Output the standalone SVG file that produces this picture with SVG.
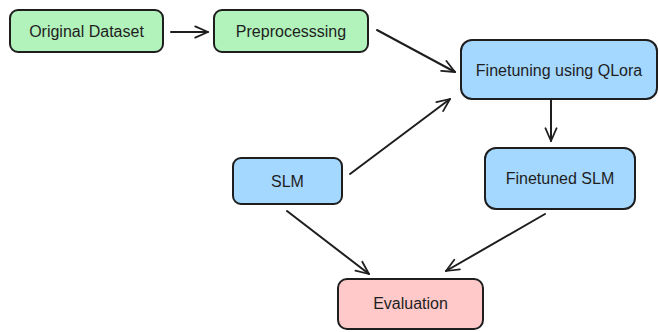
<svg xmlns="http://www.w3.org/2000/svg" width="659" height="332" viewBox="0 0 659 332">
  <style>
    .box { stroke: #1e1e1e; stroke-width: 2; }
    .green { fill: #b2f2bb; }
    .blue { fill: #a5d8ff; }
    .pink { fill: #ffc9c9; }
    .label { font-family: "Liberation Sans", "DejaVu Sans", sans-serif; font-size: 16px; fill: #1e1e1e; text-anchor: middle; dominant-baseline: central; }
    .edge { stroke: #1e1e1e; stroke-width: 2; fill: none; stroke-linecap: round; }
  </style>
  <defs>
    <marker id="arrow" viewBox="0 0 20 20" refX="18" refY="10" markerWidth="16" markerHeight="16" markerUnits="userSpaceOnUse" orient="auto">
      <path d="M2,3 L18,10 L2,17" fill="none" stroke="#1e1e1e" stroke-width="2.2" stroke-linecap="round" stroke-linejoin="round"/>
    </marker>
  </defs>
  <rect width="659" height="332" fill="#ffffff"/>

  <g id="edges">
    <line class="edge" x1="171" y1="32" x2="208" y2="32" marker-end="url(#arrow)"/>
    <line class="edge" x1="377" y1="30" x2="455" y2="72" marker-end="url(#arrow)"/>
    <line class="edge" x1="551" y1="100" x2="551" y2="141" marker-end="url(#arrow)"/>
    <line class="edge" x1="350" y1="174" x2="450" y2="99" marker-end="url(#arrow)"/>
    <line class="edge" x1="287" y1="211" x2="369" y2="274" marker-end="url(#arrow)"/>
    <line class="edge" x1="545" y1="214" x2="446" y2="271" marker-end="url(#arrow)"/>
  </g>

  <g id="original-dataset">
    <rect class="box green" x="10" y="10" width="153" height="42" rx="8"/>
    <text class="label" x="86.5" y="31">Original Dataset</text>
  </g>
  <g id="preprocessing">
    <rect class="box green" x="214" y="10" width="154" height="42" rx="8"/>
    <text class="label" x="291" y="31">Preprocesssing</text>
  </g>
  <g id="finetuning">
    <rect class="box blue" x="461" y="40" width="196" height="59" rx="11"/>
    <text class="label" x="559" y="70">Finetuning using QLora</text>
  </g>
  <g id="slm">
    <rect class="box blue" x="233" y="158" width="109" height="46" rx="8"/>
    <text class="label" x="287.5" y="181">SLM</text>
  </g>
  <g id="finetuned-slm">
    <rect class="box blue" x="485" y="148" width="150" height="61" rx="11"/>
    <text class="label" x="560" y="178.5">Finetuned SLM</text>
  </g>
  <g id="evaluation">
    <rect class="box pink" x="338" y="279" width="145" height="50" rx="9"/>
    <text class="label" x="410.5" y="303">Evaluation</text>
  </g>
</svg>
